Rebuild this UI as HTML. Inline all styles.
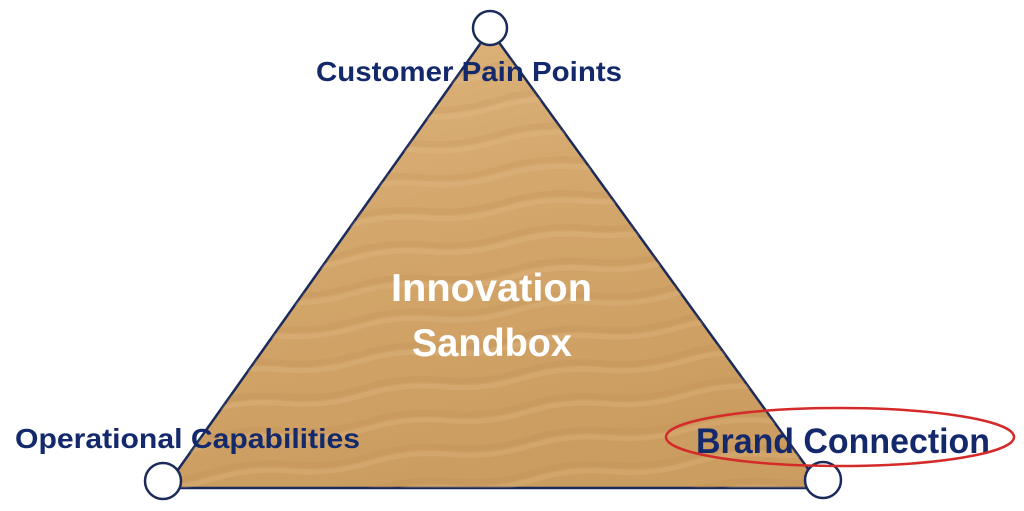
<!DOCTYPE html>
<html><head><style>
html,body{margin:0;padding:0;background:#fff;width:1024px;height:511px;overflow:hidden}
</style></head><body>
<svg width="1024" height="511" viewBox="0 0 1024 511" xmlns="http://www.w3.org/2000/svg">
<defs>
<linearGradient id="sand" x1="0" y1="0" x2="0.3" y2="1">
<stop offset="0" stop-color="#ddb57e"/>
<stop offset="0.5" stop-color="#d3a66b"/>
<stop offset="1" stop-color="#cc9d60"/>
</linearGradient>
<pattern id="waves" width="160" height="34" patternUnits="userSpaceOnUse" patternTransform="rotate(-6)">
<path d="M0 16 Q40 8 80 16 T160 16" stroke="#b8874c" stroke-opacity="0.18" stroke-width="6" fill="none"/>
<path d="M0 23 Q40 15 80 23 T160 23" stroke="#ecca98" stroke-opacity="0.2" stroke-width="5" fill="none"/>
</pattern>
</defs>
<polygon points="490,30 165,488 822,488" fill="url(#sand)" stroke="#1a2a5a" stroke-width="2.5"/>
<polygon points="490,30 165,488 822,488" fill="url(#waves)"/>
<circle cx="490" cy="28" r="17" fill="#fff" stroke="#1a2a5a" stroke-width="2.5"/>
<circle cx="163" cy="481" r="18" fill="#fff" stroke="#1a2a5a" stroke-width="2.5"/>
<circle cx="823" cy="480" r="18" fill="#fff" stroke="#1a2a5a" stroke-width="2.5"/>
<g font-family="Liberation Sans, sans-serif" font-weight="bold">
<text x="316" y="81" font-size="28" fill="#13296b" textLength="306" lengthAdjust="spacingAndGlyphs">Customer Pain Points</text>
<text x="15" y="448" font-size="28" fill="#13296b" textLength="345" lengthAdjust="spacingAndGlyphs">Operational Capabilities</text>
<text x="696" y="453" font-size="35" fill="#13296b" textLength="294" lengthAdjust="spacingAndGlyphs">Brand Connection</text>
<text x="391" y="301" font-size="39" fill="#fff" textLength="201" lengthAdjust="spacingAndGlyphs">Innovation</text>
<text x="412" y="356" font-size="39" fill="#fff" textLength="160" lengthAdjust="spacingAndGlyphs">Sandbox</text>
</g>
<ellipse cx="840" cy="437" rx="174" ry="29" fill="none" stroke="#d42a2a" stroke-width="2.5"/>
</svg>
</body></html>
